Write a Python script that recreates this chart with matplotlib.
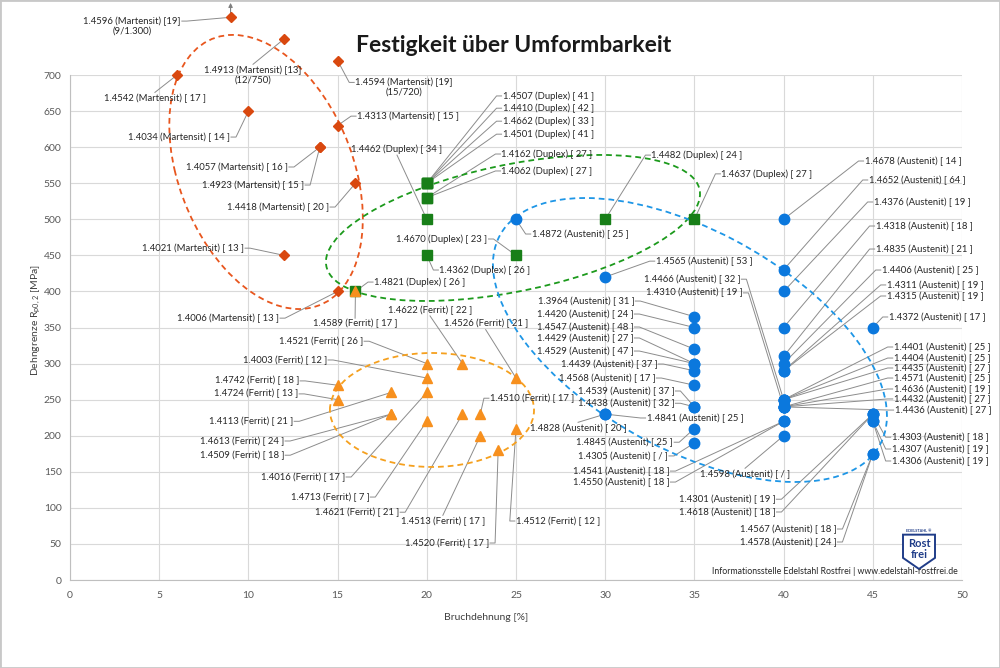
"""Festigkeit ueber Umformbarkeit - Dehngrenze gegen Bruchdehnung."""

import numpy as np
import matplotlib.pyplot as plt
from matplotlib.patches import Circle, Polygon, Rectangle
from matplotlib.transforms import Affine2D

plt.rcParams['font.family'] = ['Lato', 'DejaVu Sans']

# %% data (Bruchdehnung [%], Rp0,2 [MPa], Wert in eckigen Klammern)
mart_names = ['1.4596', '1.4913', '1.4594', '1.4542', '1.4034', '1.4313',
              '1.4057', '1.4923', '1.4418', '1.4021', '1.4006']
mart_x = [9, 12, 15, 6, 10, 15, 14, 14, 16, 12, 15]
mart_y = [780, 750, 720, 700, 650, 630, 600, 600, 550, 450, 400]  # 1.4596 gekappt
mart_br = ['19', '13', '19', '17', '14', '15', '16', '15', '20', '13', '13']
mart_note = ['9/1.300', '12/750', '15/720', '', '', '', '', '', '', '', '']

dup_names = ['1.4821', '1.4507', '1.4410', '1.4662', '1.4501', '1.4162',
             '1.4062', '1.4462', '1.4670', '1.4362', '1.4482', '1.4637']
dup_x = [16, 20, 20, 20, 20, 20, 20, 20, 25, 20, 30, 35]
dup_y = [400, 550, 550, 550, 550, 530, 530, 500, 450, 450, 500, 500]
dup_br = ['26', '41', '42', '33', '41', '27', '27', '34', '23', '26', '24',
          '27']

fer_names = ['1.4589', '1.4622', '1.4526', '1.4521', '1.4003', '1.4742',
             '1.4724', '1.4113', '1.4613', '1.4509', '1.4016', '1.4713',
             '1.4621', '1.4513', '1.4520', '1.4512', '1.4510']
fer_x = [16, 22, 25, 20, 20, 15, 15, 18, 18, 18, 20, 20, 22, 23, 24, 25, 23]
fer_y = [400, 300, 280, 300, 280, 270, 250, 260, 230, 230, 260, 220, 230,
         200, 180, 210, 230]
fer_br = ['17', '22', '21', '26', '12', '18', '13', '21', '24', '18', '17',
          '7', '21', '17', '17', '12', '17']

aus_names = ['1.4872', '1.4565', '1.4466', '1.4310', '1.3964', '1.4420',
             '1.4547', '1.4429', '1.4529', '1.4439', '1.4568', '1.4539',
             '1.4438', '1.4841', '1.4828', '1.4845', '1.4305', '1.4541',
             '1.4550', '1.4598', '1.4301', '1.4618', '1.4567', '1.4578',
             '1.4678', '1.4652', '1.4376', '1.4318', '1.4835', '1.4406',
             '1.4311', '1.4315', '1.4372', '1.4401', '1.4404', '1.4435',
             '1.4571', '1.4636', '1.4432', '1.4436', '1.4303', '1.4307',
             '1.4306']
aus_x = [25, 30, 40, 40, 35, 35, 35, 35, 35, 35, 35, 35, 35, 30, 30, 35, 35,
         40, 40, 40, 45, 45, 45, 45, 40, 40, 40, 40, 40, 40, 40, 40, 45, 40,
         40, 40, 40, 40, 40, 40, 45, 45, 45]
aus_y = [500, 420, 250, 240, 365, 350, 320, 300, 300, 290, 270, 240, 240,
         230, 230, 210, 190, 220, 220, 200, 230, 230, 175, 175, 500, 430,
         400, 350, 310, 300, 290, 290, 350, 250, 250, 250, 240, 240, 240,
         240, 230, 220, 220]
aus_br = ['25', '53', '32', '19', '31', '24', '48', '27', '47', '37', '17',
          '37', '32', '25', '20', '25', '/', '18', '18', '/', '19', '18',
          '18', '24', '14', '64', '19', '18', '21', '25', '19', '19', '17',
          '25', '25', '27', '25', '19', '27', '27', '18', '19', '19']

# %% label positions (data coords of text centre)
mart_lab = [(3.48, 768), (10.26, 700), (18.72, 683), (4.76, 668),
            (6.11, 614), (18.95, 643), (9.36, 572.5), (10.26, 547.5),
            (11.66, 517), (6.9, 460), (8.86, 363)]
dup_lab = [(19.6, 413), (26.8, 671), (26.8, 654), (26.8, 636), (26.8, 618),
           (26.74, 590.5), (26.74, 567), (18.33, 597), (20.85, 472.7),
           (23.26, 429.7), (35.15, 589), (39.07, 563)]
fer_lab = [(15.98, 355), (20.18, 374), (23.3, 355), (14.07, 331),
           (12.05, 305), (10.48, 276), (10.43, 258), (10.15, 220),
           (9.64, 192.7), (9.64, 173), (13.06, 142.8), (14.57, 115),
           (16.09, 94), (20.9, 81.8), (21.13, 51.3), (27.35, 81.8),
           (25.9, 252)]
aus_lab = [(28.59, 479.6), (35.54, 442), (34.87, 417), (34.98, 398),
           (28.92, 386.7), (28.87, 368.7), (28.87, 350.7), (28.87, 335.5),
           (28.87, 317.4), (30.21, 299.4), (30.1, 280), (31.17, 262),
           (31.17, 245), (35.03, 224.6), (28.48, 210.7), (31.1, 191),
           (31.0, 172), (30.89, 151), (30.89, 135.8), (37.84, 147),
           (36.83, 112), (36.83, 94.3), (40.25, 70.7), (40.25, 52.7),
           (47.25, 580.8), (47.48, 554.5), (47.76, 524), (47.87, 490.7),
           (47.87, 458.8), (48.21, 429.7), (48.49, 409), (48.49, 393.7),
           (48.6, 364.6), (48.88, 323), (48.88, 307.7), (48.88, 293.9),
           (48.88, 280), (48.88, 264.8), (48.88, 251), (48.93, 235.6),
           (48.77, 198), (48.77, 181.6), (48.77, 165)]

# ellipses: centre, vector to top point, horizontal conjugate vector
ELLIPSES = [((10.99, 565.6), (-1.85, 190), (5.1, 0), '#E8561E'),
            ((24.83, 488), (4.88, 101.2), (9.28, 0), '#1C9A1C'),
            ((34.75, 332.7), (-5.89, 196.8), (9.34, 0), '#1E96E6'),
            ((20.29, 235.7), (0, 79), (5.72, 0), '#F5A01E')]

GROUPS = [
    ('Martensit', mart_names, mart_x, mart_y, mart_br, mart_lab,
     'D', 5.5, '#D9480F'),
    ('Duplex', dup_names, dup_x, dup_y, dup_br, dup_lab, 's', 7, '#187F18'),
    ('Austenit', aus_names, aus_x, aus_y, aus_br, aus_lab, 'o', 7.5,
     '#0B78DD'),
    ('Ferrit', fer_names, fer_x, fer_y, fer_br, fer_lab, '^', 7.5,
     '#F7901E'),
]

TXT_COL = '#262626'
LINE_COL = '#8C8C8C'
LAB_FS = 6.8

# %% figure
fig = plt.figure(figsize=(10, 6.68), dpi=100)
ax = fig.add_axes([0.07, 0.1317, 0.892, 0.756])
ax.set_xlim(0, 50)
ax.set_ylim(0, 700)
ax.set_xticks(range(0, 51, 5))
ax.set_yticks(range(0, 701, 50))
ax.grid(True, color='#D9D9D9', lw=0.8)
ax.set_axisbelow(True)
for s in ['top', 'right']:
    ax.spines[s].set_visible(False)
for s in ['left', 'bottom']:
    ax.spines[s].set_color('#BFBFBF')
ax.tick_params(length=0, labelsize=7.5, colors='#595959')
ax.tick_params(axis='x', pad=8)
ax.tick_params(axis='y', pad=6)

for (c, u, v, col) in ELLIPSES:
    m = Affine2D(np.array([[u[0], v[0], c[0]],
                           [u[1], v[1], c[1]],
                           [0, 0, 1]]))
    ax.add_patch(Circle((0, 0), 1, transform=m + ax.transData, fill=False,
                        ec=col, lw=1.3, ls=(0, (3.2, 2.2)), clip_on=False,
                        zorder=3))

texts, points = [], []
for kind, names, xs, ys, brs, labs, mk, ms, col in GROUPS:
    for i, name in enumerate(names):
        note = mart_note[i] if kind == 'Martensit' else ''
        if note:
            s = f'{name} ({kind}) [{brs[i]}]\n({note})'
        else:
            s = f'{name} ({kind}) [ {brs[i]} ]'
        t = ax.text(labs[i][0], labs[i][1], s, fontsize=LAB_FS,
                    color=TXT_COL, ha='center', va='center',
                    linespacing=1.15, clip_on=False, zorder=6)
        texts.append(t)
        points.append((xs[i], ys[i]))

# leader lines from the label edge to the point
fig.canvas.draw()
renderer = fig.canvas.get_renderer()
to_data = ax.transData.inverted()
for t, p in zip(texts, points):
    bb = t.get_window_extent(renderer)
    tx, ty = ax.transData.transform(p)
    cx, cy = (bb.x0 + bb.x1) / 2, (bb.y0 + bb.y1) / 2
    if '\n' in t.get_text():
        cy = bb.y1 - (bb.y1 - bb.y0) / 4
    if tx - cx > 40:
        a, b = (bb.x1 + 1, cy), (bb.x1 + 6, cy)
    elif tx - cx < -40:
        a, b = (bb.x0 - 1, cy), (bb.x0 - 6, cy)
    elif ty > cy:
        a = b = (cx, bb.y1 + 1)
    else:
        a = b = (cx, bb.y0 - 1)
    pts = to_data.transform([a, b, (tx, ty)])
    ax.plot(pts[:, 0], pts[:, 1], color=LINE_COL, lw=0.7, clip_on=False,
            zorder=2)

for kind, names, xs, ys, brs, labs, mk, ms, col in GROUPS:
    ax.plot(xs, ys, ls='none', marker=mk, ms=ms, color=col, mec=col,
            clip_on=False, zorder=5)

# 1.4596 liegt ausserhalb der Skala
ax.annotate('', xy=(mart_x[0], 800), xytext=(mart_x[0], mart_y[0]),
            arrowprops=dict(arrowstyle='-|>', color='#7F7F7F', lw=0.8,
                            mutation_scale=6, shrinkA=3, shrinkB=0),
            annotation_clip=False)

fig.text(0.514, 1 - 45 / 668, 'Festigkeit über Umformbarkeit',
         fontsize=16.5, fontweight='bold', ha='center', va='center',
         color='#1A1A1A')
fig.text(0.486, 1 - 617 / 668, 'Bruchdehnung [%]', fontsize=7.5,
         ha='center', va='center', color='#404040')
fig.text(0.036, 1 - 320 / 668, r'Dehngrenze R$_\mathregular{p0,2}$ [MPa]',
         fontsize=7.5, ha='center', va='center', rotation=90,
         color='#404040')
fig.text(0.958, 1 - 572 / 668,
         'Informationsstelle Edelstahl Rostfrei | www.edelstahl-rostfrei.de',
         fontsize=6.3, ha='right', va='center', color='#262626')

# logo
lg = fig.add_axes([0.897, 1 - 572 / 668, 0.044, 0.068])
lg.set_xlim(0, 44)
lg.set_ylim(0, 45)
lg.axis('off')
lg.add_patch(Polygon([(6, 37), (38, 37), (38, 14), (22, 3), (6, 14)],
                     closed=True, fc='white', ec='#1F3C88', lw=1.4))
lg.text(22, 41, 'EDELSTAHL ®', fontsize=2.8, ha='center', va='center',
        color='#1F3C88', fontweight='bold')
lg.text(22, 28, 'Rost', fontsize=8, ha='center', va='center',
        color='#1F3C88', fontweight='bold')
lg.text(22, 17, 'frei', fontsize=8, ha='center', va='center',
        color='#1F3C88', fontweight='bold')

fig.patches.append(Rectangle((0, 0), 1, 1, transform=fig.transFigure,
                             fill=False, ec='#C8C8C8', lw=2))

fig.savefig('out.png', dpi=100)
